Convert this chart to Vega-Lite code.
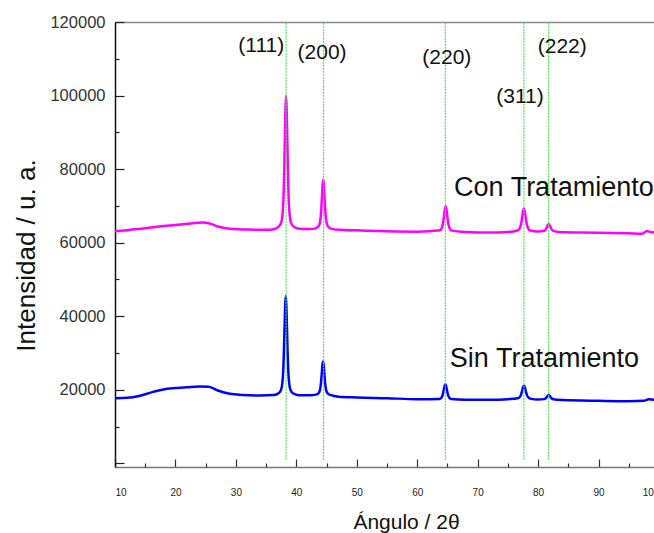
{
  "$schema": "https://vega.github.io/schema/vega-lite/v6.json",
  "width": 544,
  "height": 445,
  "autosize": {"type": "none"},
  "padding": {"left": 115, "top": 22, "right": -5, "bottom": 66},
  "background": "white",
  "config": {"view": {"stroke": null}, "font": "Liberation Sans"},
  "datasets": {
    "xrd": [
      {"serie": "Sin", "angulo": 10, "intensidad": 17700},
      {"serie": "Sin", "angulo": 12, "intensidad": 17800},
      {"serie": "Sin", "angulo": 14, "intensidad": 18300},
      {"serie": "Sin", "angulo": 16, "intensidad": 19300},
      {"serie": "Sin", "angulo": 18, "intensidad": 20100},
      {"serie": "Sin", "angulo": 20, "intensidad": 20450},
      {"serie": "Sin", "angulo": 22, "intensidad": 20700},
      {"serie": "Sin", "angulo": 24, "intensidad": 20900},
      {"serie": "Sin", "angulo": 25.5, "intensidad": 20800},
      {"serie": "Sin", "angulo": 27, "intensidad": 19800},
      {"serie": "Sin", "angulo": 29, "intensidad": 18900},
      {"serie": "Sin", "angulo": 31, "intensidad": 18600},
      {"serie": "Sin", "angulo": 34, "intensidad": 18450},
      {"serie": "Sin", "angulo": 36.3, "intensidad": 18550},
      {"serie": "Sin", "angulo": 37.05, "intensidad": 19040},
      {"serie": "Sin", "angulo": 37.45, "intensidad": 19850},
      {"serie": "Sin", "angulo": 37.7, "intensidad": 22010},
      {"serie": "Sin", "angulo": 37.85, "intensidad": 25790},
      {"serie": "Sin", "angulo": 37.95, "intensidad": 30650},
      {"serie": "Sin", "angulo": 38.05, "intensidad": 36860},
      {"serie": "Sin", "angulo": 38.15, "intensidad": 42800},
      {"serie": "Sin", "angulo": 38.25, "intensidad": 45500},
      {"serie": "Sin", "angulo": 38.35, "intensidad": 42800},
      {"serie": "Sin", "angulo": 38.45, "intensidad": 36860},
      {"serie": "Sin", "angulo": 38.55, "intensidad": 30650},
      {"serie": "Sin", "angulo": 38.65, "intensidad": 25790},
      {"serie": "Sin", "angulo": 38.8, "intensidad": 22010},
      {"serie": "Sin", "angulo": 39.05, "intensidad": 19850},
      {"serie": "Sin", "angulo": 39.45, "intensidad": 19040},
      {"serie": "Sin", "angulo": 40.5, "intensidad": 18500},
      {"serie": "Sin", "angulo": 42.3, "intensidad": 18500},
      {"serie": "Sin", "angulo": 43.22, "intensidad": 18684},
      {"serie": "Sin", "angulo": 43.62, "intensidad": 18960},
      {"serie": "Sin", "angulo": 43.87, "intensidad": 19696},
      {"serie": "Sin", "angulo": 44.02, "intensidad": 20984},
      {"serie": "Sin", "angulo": 44.12, "intensidad": 22640},
      {"serie": "Sin", "angulo": 44.22, "intensidad": 24756},
      {"serie": "Sin", "angulo": 44.32, "intensidad": 26780},
      {"serie": "Sin", "angulo": 44.42, "intensidad": 27700},
      {"serie": "Sin", "angulo": 44.52, "intensidad": 26780},
      {"serie": "Sin", "angulo": 44.62, "intensidad": 24756},
      {"serie": "Sin", "angulo": 44.72, "intensidad": 22640},
      {"serie": "Sin", "angulo": 44.82, "intensidad": 20984},
      {"serie": "Sin", "angulo": 44.97, "intensidad": 19696},
      {"serie": "Sin", "angulo": 45.22, "intensidad": 18960},
      {"serie": "Sin", "angulo": 45.62, "intensidad": 18600},
      {"serie": "Sin", "angulo": 47, "intensidad": 18100},
      {"serie": "Sin", "angulo": 50, "intensidad": 17900},
      {"serie": "Sin", "angulo": 55, "intensidad": 17700},
      {"serie": "Sin", "angulo": 60, "intensidad": 17450},
      {"serie": "Sin", "angulo": 63.69, "intensidad": 17510},
      {"serie": "Sin", "angulo": 63.99, "intensidad": 17846},
      {"serie": "Sin", "angulo": 64.17, "intensidad": 18434},
      {"serie": "Sin", "angulo": 64.29, "intensidad": 19190},
      {"serie": "Sin", "angulo": 64.41, "intensidad": 20156},
      {"serie": "Sin", "angulo": 64.53, "intensidad": 21080},
      {"serie": "Sin", "angulo": 64.65, "intensidad": 21500},
      {"serie": "Sin", "angulo": 64.77, "intensidad": 21080},
      {"serie": "Sin", "angulo": 64.89, "intensidad": 20156},
      {"serie": "Sin", "angulo": 65.01, "intensidad": 19190},
      {"serie": "Sin", "angulo": 65.13, "intensidad": 18434},
      {"serie": "Sin", "angulo": 65.31, "intensidad": 17846},
      {"serie": "Sin", "angulo": 65.61, "intensidad": 17510},
      {"serie": "Sin", "angulo": 68, "intensidad": 17300},
      {"serie": "Sin", "angulo": 72, "intensidad": 17300},
      {"serie": "Sin", "angulo": 75, "intensidad": 17450},
      {"serie": "Sin", "angulo": 76.6, "intensidad": 17680},
      {"serie": "Sin", "angulo": 76.93, "intensidad": 17970},
      {"serie": "Sin", "angulo": 77.13, "intensidad": 18470},
      {"serie": "Sin", "angulo": 77.26, "intensidad": 19120},
      {"serie": "Sin", "angulo": 77.39, "intensidad": 19950},
      {"serie": "Sin", "angulo": 77.52, "intensidad": 20740},
      {"serie": "Sin", "angulo": 77.65, "intensidad": 21100},
      {"serie": "Sin", "angulo": 77.78, "intensidad": 20740},
      {"serie": "Sin", "angulo": 77.91, "intensidad": 19950},
      {"serie": "Sin", "angulo": 78.04, "intensidad": 19120},
      {"serie": "Sin", "angulo": 78.17, "intensidad": 18470},
      {"serie": "Sin", "angulo": 78.37, "intensidad": 17970},
      {"serie": "Sin", "angulo": 78.7, "intensidad": 17600},
      {"serie": "Sin", "angulo": 80, "intensidad": 17330},
      {"serie": "Sin", "angulo": 81.0, "intensidad": 17460},
      {"serie": "Sin", "angulo": 81.23, "intensidad": 17640},
      {"serie": "Sin", "angulo": 81.36, "intensidad": 17860},
      {"serie": "Sin", "angulo": 81.49, "intensidad": 18150},
      {"serie": "Sin", "angulo": 81.62, "intensidad": 18420},
      {"serie": "Sin", "angulo": 81.75, "intensidad": 18550},
      {"serie": "Sin", "angulo": 81.88, "intensidad": 18420},
      {"serie": "Sin", "angulo": 82.01, "intensidad": 18150},
      {"serie": "Sin", "angulo": 82.14, "intensidad": 17860},
      {"serie": "Sin", "angulo": 82.27, "intensidad": 17640},
      {"serie": "Sin", "angulo": 82.5, "intensidad": 17400},
      {"serie": "Sin", "angulo": 84, "intensidad": 17200},
      {"serie": "Sin", "angulo": 90, "intensidad": 17000},
      {"serie": "Sin", "angulo": 95, "intensidad": 16900},
      {"serie": "Sin", "angulo": 97.5, "intensidad": 17000},
      {"serie": "Sin", "angulo": 98.3, "intensidad": 17400},
      {"serie": "Sin", "angulo": 99, "intensidad": 17300},
      {"serie": "Sin", "angulo": 100, "intensidad": 17200},
      {"serie": "Con", "angulo": 10, "intensidad": 63100},
      {"serie": "Con", "angulo": 12, "intensidad": 63400},
      {"serie": "Con", "angulo": 15, "intensidad": 63900},
      {"serie": "Con", "angulo": 18, "intensidad": 64500},
      {"serie": "Con", "angulo": 20, "intensidad": 64800},
      {"serie": "Con", "angulo": 22, "intensidad": 65150},
      {"serie": "Con", "angulo": 24.5, "intensidad": 65450},
      {"serie": "Con", "angulo": 25.5, "intensidad": 65300},
      {"serie": "Con", "angulo": 27, "intensidad": 64400},
      {"serie": "Con", "angulo": 29, "intensidad": 63800},
      {"serie": "Con", "angulo": 32, "intensidad": 63550},
      {"serie": "Con", "angulo": 35, "intensidad": 63500},
      {"serie": "Con", "angulo": 36.3, "intensidad": 63650},
      {"serie": "Con", "angulo": 37.1, "intensidad": 64430},
      {"serie": "Con", "angulo": 37.5, "intensidad": 65515},
      {"serie": "Con", "angulo": 37.75, "intensidad": 68420},
      {"serie": "Con", "angulo": 37.9, "intensidad": 73500},
      {"serie": "Con", "angulo": 38.0, "intensidad": 80035},
      {"serie": "Con", "angulo": 38.1, "intensidad": 88380},
      {"serie": "Con", "angulo": 38.2, "intensidad": 96370},
      {"serie": "Con", "angulo": 38.3, "intensidad": 100000},
      {"serie": "Con", "angulo": 38.4, "intensidad": 96370},
      {"serie": "Con", "angulo": 38.5, "intensidad": 88380},
      {"serie": "Con", "angulo": 38.6, "intensidad": 80035},
      {"serie": "Con", "angulo": 38.7, "intensidad": 73500},
      {"serie": "Con", "angulo": 38.85, "intensidad": 68420},
      {"serie": "Con", "angulo": 39.1, "intensidad": 65515},
      {"serie": "Con", "angulo": 39.5, "intensidad": 64430},
      {"serie": "Con", "angulo": 40.5, "intensidad": 63750},
      {"serie": "Con", "angulo": 42.3, "intensidad": 63700},
      {"serie": "Con", "angulo": 43.25, "intensidad": 63970},
      {"serie": "Con", "angulo": 43.65, "intensidad": 64375},
      {"serie": "Con", "angulo": 43.9, "intensidad": 65455},
      {"serie": "Con", "angulo": 44.05, "intensidad": 67345},
      {"serie": "Con", "angulo": 44.15, "intensidad": 69775},
      {"serie": "Con", "angulo": 44.25, "intensidad": 72880},
      {"serie": "Con", "angulo": 44.35, "intensidad": 75850},
      {"serie": "Con", "angulo": 44.45, "intensidad": 77200},
      {"serie": "Con", "angulo": 44.55, "intensidad": 75850},
      {"serie": "Con", "angulo": 44.65, "intensidad": 72880},
      {"serie": "Con", "angulo": 44.75, "intensidad": 69775},
      {"serie": "Con", "angulo": 44.85, "intensidad": 67345},
      {"serie": "Con", "angulo": 45.0, "intensidad": 65455},
      {"serie": "Con", "angulo": 45.25, "intensidad": 64375},
      {"serie": "Con", "angulo": 45.65, "intensidad": 63900},
      {"serie": "Con", "angulo": 47, "intensidad": 63500},
      {"serie": "Con", "angulo": 50, "intensidad": 63350},
      {"serie": "Con", "angulo": 55, "intensidad": 63100},
      {"serie": "Con", "angulo": 60, "intensidad": 63000},
      {"serie": "Con", "angulo": 63.74, "intensidad": 63345},
      {"serie": "Con", "angulo": 64.04, "intensidad": 63900},
      {"serie": "Con", "angulo": 64.22, "intensidad": 64860},
      {"serie": "Con", "angulo": 64.34, "intensidad": 66100},
      {"serie": "Con", "angulo": 64.46, "intensidad": 67690},
      {"serie": "Con", "angulo": 64.58, "intensidad": 69210},
      {"serie": "Con", "angulo": 64.7, "intensidad": 69900},
      {"serie": "Con", "angulo": 64.82, "intensidad": 69210},
      {"serie": "Con", "angulo": 64.94, "intensidad": 67690},
      {"serie": "Con", "angulo": 65.06, "intensidad": 66100},
      {"serie": "Con", "angulo": 65.18, "intensidad": 64860},
      {"serie": "Con", "angulo": 65.36, "intensidad": 63900},
      {"serie": "Con", "angulo": 65.66, "intensidad": 63345},
      {"serie": "Con", "angulo": 68, "intensidad": 62900},
      {"serie": "Con", "angulo": 72, "intensidad": 62750},
      {"serie": "Con", "angulo": 75, "intensidad": 62900},
      {"serie": "Con", "angulo": 76.6, "intensidad": 63315},
      {"serie": "Con", "angulo": 76.93, "intensidad": 63820},
      {"serie": "Con", "angulo": 77.13, "intensidad": 64700},
      {"serie": "Con", "angulo": 77.26, "intensidad": 65835},
      {"serie": "Con", "angulo": 77.39, "intensidad": 67280},
      {"serie": "Con", "angulo": 77.52, "intensidad": 68670},
      {"serie": "Con", "angulo": 77.65, "intensidad": 69300},
      {"serie": "Con", "angulo": 77.78, "intensidad": 68670},
      {"serie": "Con", "angulo": 77.91, "intensidad": 67280},
      {"serie": "Con", "angulo": 78.04, "intensidad": 65835},
      {"serie": "Con", "angulo": 78.17, "intensidad": 64700},
      {"serie": "Con", "angulo": 78.37, "intensidad": 63820},
      {"serie": "Con", "angulo": 78.7, "intensidad": 63315},
      {"serie": "Con", "angulo": 80, "intensidad": 63050},
      {"serie": "Con", "angulo": 81.0, "intensidad": 63260},
      {"serie": "Con", "angulo": 81.23, "intensidad": 63540},
      {"serie": "Con", "angulo": 81.36, "intensidad": 63900},
      {"serie": "Con", "angulo": 81.49, "intensidad": 64360},
      {"serie": "Con", "angulo": 81.62, "intensidad": 64800},
      {"serie": "Con", "angulo": 81.75, "intensidad": 65000},
      {"serie": "Con", "angulo": 81.88, "intensidad": 64800},
      {"serie": "Con", "angulo": 82.01, "intensidad": 64360},
      {"serie": "Con", "angulo": 82.14, "intensidad": 63900},
      {"serie": "Con", "angulo": 82.27, "intensidad": 63540},
      {"serie": "Con", "angulo": 82.5, "intensidad": 63200},
      {"serie": "Con", "angulo": 84, "intensidad": 62800},
      {"serie": "Con", "angulo": 90, "intensidad": 62700},
      {"serie": "Con", "angulo": 95, "intensidad": 62550},
      {"serie": "Con", "angulo": 97.2, "intensidad": 62450},
      {"serie": "Con", "angulo": 98.0, "intensidad": 63150},
      {"serie": "Con", "angulo": 98.6, "intensidad": 62900},
      {"serie": "Con", "angulo": 99, "intensidad": 62800},
      {"serie": "Con", "angulo": 100, "intensidad": 62700}
    ],
    "picos": [
      {"hkl": "(111)", "angulo": 38.3, "xl": 34.2, "yl": 113600},
      {"hkl": "(200)", "angulo": 44.5, "xl": 44.26, "yl": 111600},
      {"hkl": "(220)", "angulo": 64.65, "xl": 64.9, "yl": 110300},
      {"hkl": "(311)", "angulo": 77.65, "xl": 77.0, "yl": 99700},
      {"hkl": "(222)", "angulo": 81.75, "xl": 84.0, "yl": 113100}
    ],
    "series": [
      {"texto": "Con Tratamiento", "x": 66.1, "y": 72700},
      {"texto": "Sin Tratamiento", "x": 65.4, "y": 26100}
    ]
  },
  "layer": [
    {
      "data": {"name": "xrd"},
      "mark": {"type": "line", "strokeWidth": 2.5, "interpolate": "monotone"},
      "encoding": {
        "x": {
          "field": "angulo", "type": "quantitative",
          "scale": {"domain": [10, 100], "nice": false, "zero": false},
          "axis": {
            "orient": "bottom",
            "values": [10, 20, 30, 40, 50, 60, 70, 80, 90, 100],
            "grid": false,
            "tickSize": -8, "tickColor": "#333", "tickWidth": 1.2,
            "domainColor": "#777", "domainWidth": 1.5,
            "labelFontSize": 10, "labelColor": "#222", "labelPadding": 28,
            "labelFlush": true,
            "title": "Ángulo / 2θ", "titleFontSize": 21, "titleFontWeight": "normal",
            "titleColor": "#111", "titleX": 291, "titleY": 61.5,
            "titleBaseline": "alphabetic", "titleAlign": "center"
          }
        },
        "y": {
          "field": "intensidad", "type": "quantitative",
          "scale": {"domain": [-1000, 120000], "nice": false, "zero": false},
          "axis": {
            "orient": "left",
            "values": [0, 20000, 40000, 60000, 80000, 100000, 120000],
            "format": "d",
            "labelExpr": "datum.value == 0 ? '' : datum.label",
            "grid": false,
            "tickSize": -9, "tickColor": "#222", "tickWidth": 1.2,
            "domainColor": "#111", "domainWidth": 1.5,
            "labelFontSize": 16.5, "labelColor": "#333", "labelPadding": 19,
            "title": "Intensidad / u. a.", "titleFontSize": 26, "titleFontWeight": "normal",
            "titleColor": "#111", "titleX": -89, "titleY": 233,
            "titleAngle": 270, "titleBaseline": "middle", "titleAlign": "center"
          }
        },
        "color": {
          "field": "serie", "type": "nominal",
          "scale": {"domain": ["Con", "Sin"], "range": ["#ff00ff", "#0000ff"]},
          "legend": null
        },
        "detail": {"field": "serie"}
      }
    },
    {
      "data": {"name": "picos"},
      "mark": {"type": "rule", "color": "#4fe34f", "strokeWidth": 1.2, "strokeDash": [2, 1]},
      "encoding": {
        "x": {
          "field": "angulo", "type": "quantitative",
          "axis": {
            "orient": "bottom",
            "values": [15, 25, 35, 45, 55, 65, 75, 85, 95],
            "labels": false, "domain": false, "grid": false,
            "tickSize": -4, "tickColor": "#333", "tickWidth": 1.2,
            "title": null
          }
        },
        "y": {
          "datum": 1000, "type": "quantitative",
          "axis": {
            "orient": "left",
            "values": [10000, 30000, 50000, 70000, 90000, 110000],
            "labels": false, "domain": false, "grid": false,
            "tickSize": -4, "tickColor": "#222", "tickWidth": 1.2,
            "title": null
          }
        },
        "y2": {"datum": 120000}
      }
    },
    {
      "data": {"name": "picos"},
      "mark": {"type": "text", "fontSize": 21, "color": "#111", "align": "center", "baseline": "middle"},
      "encoding": {
        "x": {
          "field": "xl", "type": "quantitative",
          "axis": {
            "orient": "top", "labels": false, "ticks": false, "grid": false,
            "domainColor": "#888", "domainWidth": 1.5, "title": null
          }
        },
        "y": {"field": "yl", "type": "quantitative", "axis": null},
        "text": {"field": "hkl"}
      }
    },
    {
      "data": {"name": "series"},
      "mark": {"type": "text", "fontSize": 27, "color": "#111", "align": "left", "baseline": "alphabetic"},
      "encoding": {
        "x": {"field": "x", "type": "quantitative", "axis": null},
        "y": {"field": "y", "type": "quantitative", "axis": null},
        "text": {"field": "texto"}
      }
    }
  ],
  "resolve": {"axis": {"x": "independent", "y": "independent"}}
}
